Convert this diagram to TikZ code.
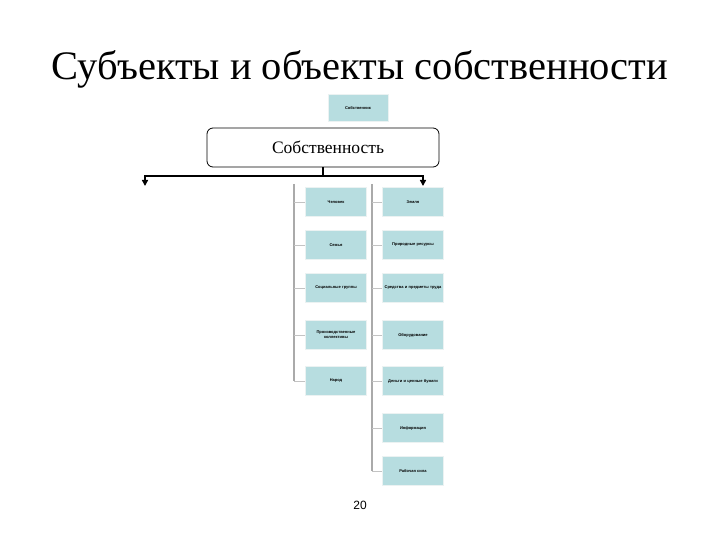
\documentclass[tikz,border=0pt]{standalone}
\usepackage{fontspec}
\setmainfont{Liberation Serif}
\newfontfamily\boxfont{Liberation Sans}
\usetikzlibrary{positioning,arrows.meta,calc}
\definecolor{boxteal}{RGB}{183,221,224}
\definecolor{linegray}{RGB}{170,170,170}
\tikzset{
    itembox/.style={fill=boxteal, draw=boxteal!85!black!20!white, minimum width=61, minimum height=29, inner sep=1pt, align=center, text width=58, font=\boxfont\bfseries\fontsize{4}{5}\selectfont},
    mainbox/.style={draw, thick, rounded corners=6, fill=white, minimum width=232, minimum height=39, font=\fontsize{17.5}{20}\selectfont},
    gline/.style={draw=linegray, line width=1.6pt},
    gtick/.style={draw=linegray!70, line width=0.8pt},
    bline/.style={draw=black, line width=1.6pt}
}
\begin{document}
\begin{tikzpicture}[x=1pt,y=-1pt]
        \useasboundingbox (0,0) rectangle (720,540);

        % Заголовок
        \node[font=\fontsize{40.5}{46}\selectfont, anchor=base] (title) at (360,80) {Субъекты и объекты собственности};

        % Верхние блоки
        \node[itembox, minimum width=60, minimum height=27, text width=56] (owner) at (358,108) {Собственник};
        \node[mainbox] (prop) at (323,147.5) {\hspace{10pt}Собственность};

        % Стрелки
        \coordinate (hub) at (323,176);
        \coordinate (aL) at (145,186);
        \coordinate (aR) at (423,186);
        \draw[bline] (prop.south) -- (hub);
        \draw[bline, {Triangle[length=6pt,width=6pt]}-{Triangle[length=6pt,width=6pt]}] (aL) |- (hub) -| (aR);

        % Субъекты
        \node[itembox] (s1) at (336,202) {Человек};
        \node[itembox] (s2) at (336,245) {Семья};
        \node[itembox] (s3) at (336,288) {Социальные группы};
        \node[itembox] (s4) at (336,335) {Производственные\\коллективы};
        \node[itembox] (s5) at (336,381) {Народ};

        % Объекты
        \node[itembox] (o1) at (413,202) {Земля};
        \node[itembox] (o2) at (413,245) {Природные ресурсы};
        \node[itembox] (o3) at (413,288) {Средства и предметы труда};
        \node[itembox] (o4) at (413,335) {Оборудование};
        \node[itembox] (o5) at (413,381) {Деньги и ценные бумаги};
        \node[itembox] (o6) at (413,428) {Информация};
        \node[itembox] (o7) at (413,471) {Рабочая сила};

        % Линии
        \coordinate (sTop) at (294,184);
        \coordinate (oTop) at (372,184);
        \draw[gline] (sTop) -- (sTop |- s5.west);
        \draw[gline] (oTop) -- (oTop |- o7.west);
        \foreach \n in {s1,s2,s3,s4,s5}
            \draw[gtick] (sTop |- \n.west) -- (\n.west);
        \foreach \n in {o1,o2,o3,o4,o5,o6,o7}
            \draw[gtick] (oTop |- \n.west) -- (\n.west);

        % Номер страницы
        \node[font=\boxfont\fontsize{12}{14}\selectfont] (page) at (360,505) {20};
\end{tikzpicture}
\end{document}
